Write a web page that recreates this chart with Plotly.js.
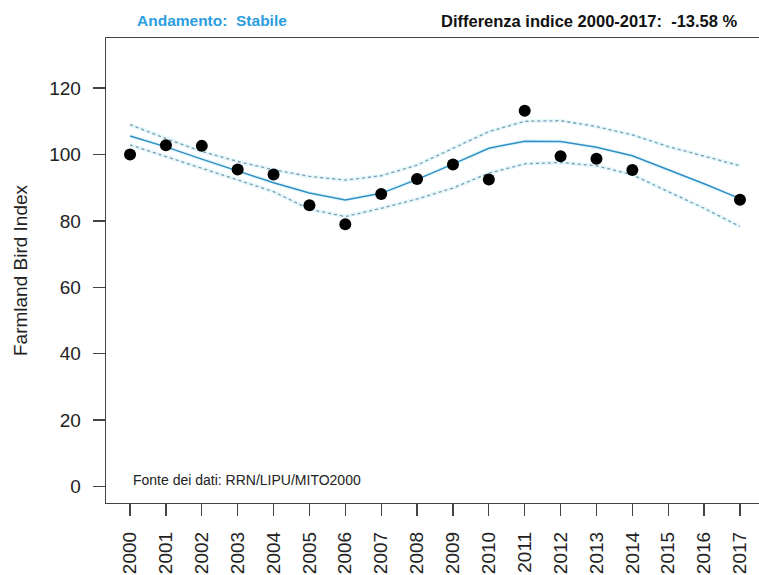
<!DOCTYPE html>
<html>
<head>
<meta charset="utf-8">
<script src="https://cdn.plot.ly/plotly-3.0.1.min.js"></script>
<style>html,body{margin:0;padding:0;background:#fff;}#chart{width:759px;height:575px;}</style>
</head>
<body>
<div id="chart"></div>
<script>
// Tick labels (years)
const years = [2000,2001,2002,2003,2004,2005,2006,2007,2008,2009,2010,2011,2012,2013,2014,2015,2016,2017];
const yearLabels = years.map(String);

// Observed index values (2015 and 2016 missing)
const obsYears  = [2000,2001,2002,2003,2004,2005,2006,2007,2008,2009,2010,2011,2012,2013,2014,2017];
const obsValues = [100.0,102.8,102.6,95.5,94.0,84.7,79.0,88.1,92.6,97.0,92.5,113.2,99.5,98.7,95.3,86.4];

// Smoothed trend and confidence band
const trendYears = years;
const trend = [105.6,102.3,98.6,95.0,91.5,88.4,86.3,88.3,92.5,97.1,101.9,104.0,103.9,102.2,99.6,95.4,91.2,86.7];
const upper = [109.0,104.8,100.9,97.9,95.4,93.4,92.3,93.6,96.8,101.9,106.9,110.0,110.2,108.4,105.9,102.4,99.4,96.6];
const lower = [102.9,99.4,95.9,92.4,88.8,83.5,81.3,83.8,86.6,89.9,94.4,97.2,97.6,96.6,93.9,88.8,83.8,78.3];

// Header texts
const trendLabel = "Andamento:  Stabile";
const diffLabel = "Differenza indice 2000-2017:  -13.58 %";
const sourceLabel = "Fonte dei dati: RRN/LIPU/MITO2000";
const yTitle = "Farmland Bird Index";

const FONT = "Liberation Sans, Arial, Helvetica, sans-serif";
const glow = "rgba(175,232,250,0.3)";

const traces = [
  {x: trendYears, y: upper, mode: "lines", line: {color: glow, width: 4}, hoverinfo: "skip", showlegend: false},
  {x: trendYears, y: lower, mode: "lines", line: {color: glow, width: 4}, hoverinfo: "skip", showlegend: false},
  {x: trendYears, y: trend, mode: "lines", line: {color: glow, width: 4}, hoverinfo: "skip", showlegend: false},
  {x: trendYears, y: upper, mode: "lines", line: {color: "#7a9cad", width: 1.3, dash: "dot"}, showlegend: false},
  {x: trendYears, y: lower, mode: "lines", line: {color: "#7a9cad", width: 1.3, dash: "dot"}, showlegend: false},
  {x: trendYears, y: trend, mode: "lines", line: {color: "#2f8fc4", width: 1.5}, showlegend: false},
  {x: obsYears, y: obsValues, mode: "markers", marker: {color: "#000", size: 12}, showlegend: false}
];

const L = 106, R = 759, T = 38, B = 503;
const px = v => (v - L) / (R - L);
const py = v => (B - v) / (B - T);

const layout = {
  width: 759, height: 575,
  margin: {l: L, r: 759 - R, t: T, b: 575 - B, pad: 0},
  paper_bgcolor: "#fff", plot_bgcolor: "#fff",
  font: {family: FONT, color: "#222"},
  showlegend: false,
  xaxis: {
    range: [1999.33, 2017.53],
    tickmode: "array", tickvals: years, ticktext: yearLabels,
    tickangle: -90, tickfont: {size: 19, color: "#222", family: FONT},
    ticks: "outside", ticklen: 12, tickwidth: 1.3, tickcolor: "#444",
    ticklabelstandoff: 8,
    showline: true, mirror: true, linecolor: "#444", linewidth: 1.3,
    showgrid: false, zeroline: false, automargin: false
  },
  yaxis: {
    range: [-5.0, 135.1],
    tickmode: "array", tickvals: [0,20,40,60,80,100,120],
    tickfont: {size: 19, color: "#222", family: FONT},
    ticks: "outside", ticklen: 12, tickwidth: 1.3, tickcolor: "#444",
    ticklabelstandoff: 8,
    showline: true, linecolor: "#444", linewidth: 1.3,
    showgrid: false, zeroline: false, automargin: false,
    title: {text: yTitle, font: {size: 19, color: "#222", family: FONT}, standoff: 16}
  },
  annotations: [
    {text: trendLabel, xref: "paper", yref: "paper", x: px(135), y: py(21), xanchor: "left", yanchor: "middle",
     showarrow: false, font: {family: FONT, size: 15.5, color: "#2b9ee0", weight: "bold"}},
    {text: diffLabel, xref: "paper", yref: "paper", x: px(740), y: py(21), xanchor: "right", yanchor: "middle",
     showarrow: false, font: {family: FONT, size: 16.5, color: "#111", weight: "bold"}},
    {text: sourceLabel, xref: "paper", yref: "paper", x: px(131), y: py(480), xanchor: "left", yanchor: "middle",
     showarrow: false, font: {family: FONT, size: 14, color: "#222"}}
  ]
};

Plotly.newPlot("chart", traces, layout, {displayModeBar: false, staticPlot: true});
</script>
</body>
</html>
